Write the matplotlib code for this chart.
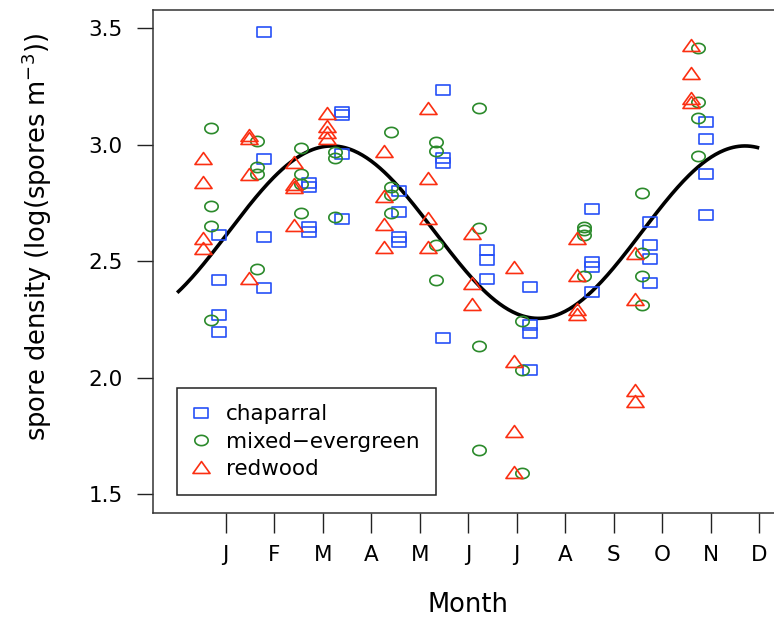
import numpy as np
import matplotlib
matplotlib.use("Agg")
import matplotlib.pyplot as plt
from matplotlib.path import Path

# Month tick labels (ticks at 1..12)
months = ["J", "F", "M", "A", "M", "J", "J", "A", "S", "O", "N", "D"]

# Sampling dates, in months
sample_month = [0.697, 1.639, 2.553, 3.247, 4.414, 5.330,
                6.229, 7.109, 8.394, 9.584, 10.739]

# log spore density per sampling date, one list per date
chaparral = [
    [2.613, 2.420, 2.270, 2.195],
    [3.485, 2.939, 2.603, 2.387],
    [2.837, 2.818, 2.648, 2.627],
    [3.140, 3.130, 2.959, 2.681],
    [2.803, 2.713, 2.606, 2.584],
    [3.235, 2.942, 2.920, 2.170],
    [2.548, 2.506, 2.423],
    [2.388, 2.227, 2.191, 2.033],
    [2.723, 2.498, 2.474, 2.370],
    [2.670, 2.570, 2.510, 2.406],
    [3.099, 3.024, 2.875, 2.699],
]
mixed_evergreen = [
    [3.071, 2.737, 2.653, 2.248],
    [3.016, 2.906, 2.876, 2.467],
    [2.985, 2.876, 2.830, 2.706],
    [2.970, 2.942, 2.688],
    [3.056, 2.818, 2.785, 2.706],
    [3.012, 2.975, 2.570, 2.420],
    [3.157, 2.642, 2.136, 1.690],
    [2.245, 2.033, 1.593],
    [2.648, 2.634, 2.613, 2.437],
    [2.792, 2.534, 2.437, 2.312],
    [3.414, 3.185, 3.114, 2.952],
]
redwood = [
    [2.942, 2.842, 2.599, 2.556],
    [3.042, 3.030, 2.873, 2.427],
    [2.925, 2.830, 2.820, 2.656],
    [3.135, 3.079, 3.053, 3.028],
    [2.975, 2.782, 2.660, 2.563],
    [3.157, 2.859, 2.684, 2.563],
    [2.620, 2.408, 2.315],
    [2.474, 2.073, 1.773, 1.597],
    [2.599, 2.441, 2.294, 2.274],
    [2.537, 2.337, 1.948, 1.902],
    [3.428, 3.309, 3.199, 3.185],
]

# Fitted seasonal cosine: mean + amp * cos(2*pi*(t - peak)/period)
fit_mean = 2.625
fit_amp = 0.370
fit_peak = 3.186
fit_period = 8.52
fit_start, fit_end = 0.0, 12.0


def box_marker(aspect):
    a = 0.5 * aspect
    v = [(-a, -0.5), (a, -0.5), (a, 0.5), (-a, 0.5), (-a, -0.5)]
    return Path(v, closed=True)


def ellipse_marker(aspect):
    t = np.linspace(0, 2 * np.pi, 73)
    v = np.column_stack([0.5 * aspect * np.cos(t), 0.5 * np.sin(t)])
    return Path(v, closed=True)


def tri_marker(aspect):
    a = 0.5 * aspect
    v = [(0, 0.5), (a, -0.5), (-a, -0.5), (0, 0.5)]
    return Path(v, closed=True)


plt.rcParams["font.family"] = ["DejaVu Sans"]

fig = plt.figure(figsize=(7.74, 6.18), dpi=100)
ax = fig.add_axes([152.7 / 774, 105.3 / 618, 623.5 / 774, 502.7 / 618])
ax.set_xlim(-0.505, 12.35)
ax.set_ylim(1.421, 3.5785)

series = [
    ("chaparral", chaparral, "#2650f7", box_marker(1.27), 9.4, +0.155),
    ("mixed\u2212evergreen", mixed_evergreen, "#2b8a2b", ellipse_marker(1.3), 9.6, 0.0),
    ("redwood", redwood, "#fb2f12", tri_marker(1.43), 12.3, -0.155),
]

for label, groups, color, mk, ms, dx in series:
    xs, ys = [], []
    for m, vals in zip(sample_month, groups):
        xs.extend([m + dx] * len(vals))
        ys.extend(vals)
    ax.plot(xs, ys, linestyle="none", marker=mk, markersize=ms,
            markerfacecolor="none", markeredgecolor=color,
            markeredgewidth=1.2, label=label, zorder=3)

t = np.linspace(fit_start, fit_end, 400)
ax.plot(t, fit_mean + fit_amp * np.cos(2 * np.pi * (t - fit_peak) / fit_period),
        color="black", linewidth=2.6, zorder=2, solid_capstyle="butt")

for s in ax.spines.values():
    s.set_linewidth(1.1)
    s.set_color("#333333")

ax.set_xticks(range(1, 13))
ax.set_xticklabels(months)
ax.set_yticks([1.5, 2.0, 2.5, 3.0, 3.5])
ax.set_yticklabels(["1.5", "2.0", "2.5", "3.0", "3.5"])
ax.tick_params(axis="x", length=14.4, width=1.0, pad=8.5, labelsize=15.5,
               color="#222222")
ax.tick_params(axis="y", length=11.5, width=1.0, pad=10.0, labelsize=15.5,
               color="#222222")

leg = ax.legend(loc="lower left", bbox_to_anchor=(0.0385, 0.0352),
                frameon=True, fancybox=False, edgecolor="#222222",
                framealpha=1.0, fontsize=15.5, numpoints=1,
                borderpad=0.75, labelspacing=0.34, handlelength=0.73,
                handletextpad=0.8, borderaxespad=0.0)
leg.get_frame().set_linewidth(1.1)

fig.text(468 / 774, 1 - 605 / 618, "Month", ha="center", va="center",
         fontsize=18.5)
fig.text(37 / 774, 1 - 237 / 618, "spore density (log(spores m$^{-3}$))",
         ha="center", va="center", rotation=90, fontsize=18.5)

fig.savefig("out.png", dpi=100)
